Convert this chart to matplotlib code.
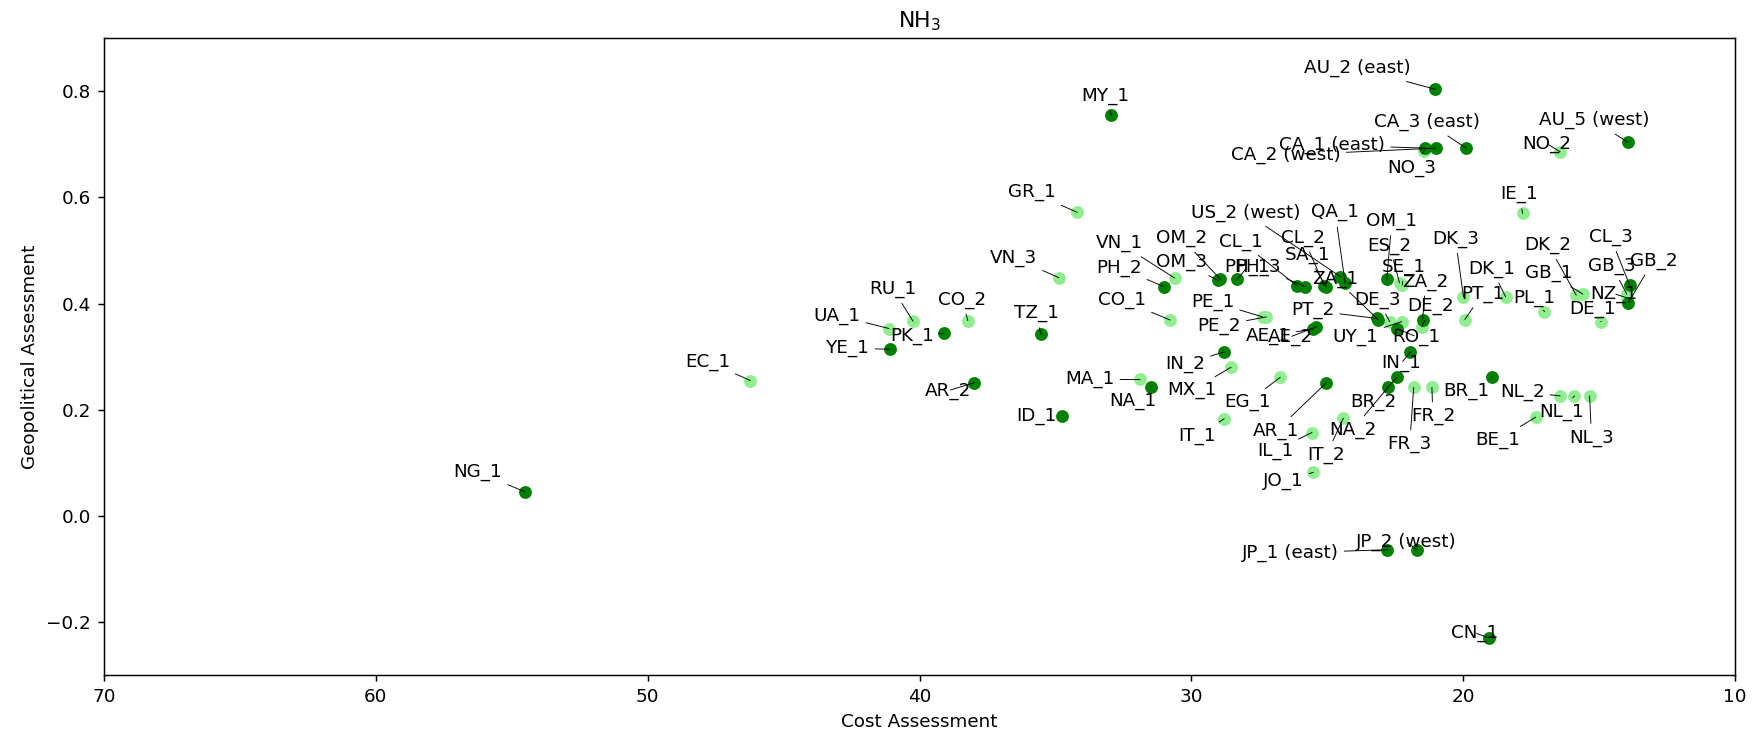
import matplotlib
matplotlib.use("Agg")
import matplotlib.pyplot as plt

# data: cost assessment (x), geopolitical assessment (y)
names = ["NG_1", "EC_1", "YE_1", "UA_1", "RU_1", "PK_1", "CO_2", "AR_2", "TZ_1", "ID_1",
         "VN_3", "GR_1", "MY_1", "MA_1", "NA_1", "PH_2", "CO_1", "VN_1", "OM_2", "OM_3",
         "PH_1", "IN_2", "MX_1", "IT_1", "PE_1", "PE_2", "EG_1", "CL_1", "PH_3", "JO_1",
         "IL_1", "AE_1", "AE_2", "SA_1", "CL_2", "AR_1", "US_2 (west)", "QA_1", "ZA_1", "IT_2",
         "PT_2", "OM_1", "NA_2", "DE_3", "RO_1", "BR_2", "JP_1 (east)", "ES_2", "SE_1", "UY_1",
         "IN_1", "FR_3", "JP_2 (west)", "DE_2", "ZA_2", "CA_1 (east)", "CA_2 (west)", "AU_2 (east)", "FR_2", "DK_3",
         "PT_1", "CA_3 (east)", "CN_1", "BR_1", "DK_1", "IE_1", "BE_1", "PL_1", "NL_2", "NO_2",
         "NL_1", "DK_2", "GB_1", "NL_3", "DE_1", "NZ_1", "CL_3", "GB_3", "GB_2", "AU_5 (west)",
         "NO_3"]
cost = [54.51, 46.22, 41.09, 41.12, 40.24, 39.11, 38.22, 37.98, 35.53, 34.74,
        34.88, 34.20, 32.94, 31.89, 31.48, 31.01, 30.78, 30.61, 28.93, 29.02,
        28.31, 28.79, 28.54, 28.79, 27.38, 27.24, 26.73, 26.12, 25.81, 25.51,
        25.56, 25.51, 25.41, 25.04, 25.11, 25.03, 24.52, 24.34, 23.13, 24.41,
        23.18, 22.81, 22.75, 22.70, 22.44, 22.43, 22.79, 22.34, 22.24, 22.26,
        21.94, 21.82, 21.70, 21.52, 21.49, 21.39, 21.00, 21.03, 21.15, 19.99,
        19.94, 19.89, 19.05, 18.93, 18.44, 17.81, 17.33, 17.01, 16.43, 16.43,
        15.91, 15.84, 15.60, 15.35, 14.93, 13.97, 13.88, 13.98, 13.92, 13.94,
        21.43]
geo = [0.045, 0.255, 0.314, 0.353, 0.367, 0.344, 0.368, 0.251, 0.342, 0.189,
       0.449, 0.572, 0.755, 0.257, 0.243, 0.432, 0.369, 0.448, 0.446, 0.444,
       0.446, 0.309, 0.280, 0.183, 0.375, 0.375, 0.261, 0.434, 0.432, 0.082,
       0.157, 0.352, 0.356, 0.432, 0.434, 0.251, 0.451, 0.438, 0.370, 0.184,
       0.372, 0.446, 0.243, 0.366, 0.353, 0.261, -0.064, 0.439, 0.435, 0.366,
       0.309, 0.242, -0.064, 0.356, 0.370, 0.693, 0.693, 0.804, 0.242, 0.413,
       0.370, 0.693, -0.230, 0.261, 0.413, 0.570, 0.186, 0.385, 0.226, 0.686,
       0.226, 0.416, 0.418, 0.226, 0.366, 0.411, 0.435, 0.418, 0.402, 0.704,
       0.688]
# 1 = dark green, 0 = light green
dark = [1, 0, 1, 0, 0, 1, 0, 1, 1, 1,
        0, 0, 1, 0, 1, 1, 0, 0, 1, 1,
        1, 1, 0, 0, 0, 0, 0, 1, 1, 0,
        0, 1, 1, 1, 1, 1, 1, 1, 1, 0,
        1, 1, 1, 0, 1, 1, 1, 0, 0, 0,
        1, 0, 1, 0, 1, 1, 1, 1, 0, 0,
        0, 1, 1, 1, 0, 0, 0, 0, 0, 0,
        0, 0, 0, 0, 0, 0, 1, 0, 1, 1,
        0]

# label offsets (pixels) from the point to the label centre
offsets = [(-47, 20), (-43, 19), (-42, 1), (-52, 13), (-20, 32), (-32, -3), (-6, 21), (-26, -8), (-5, 21), (-26, 0),
           (-45, 20), (-45, 20), (-6, 19), (-50, 0), (-18, -14), (-45, 19), (-48, 20), (-55, 35), (-39, 41), (-36, 18),
           (10, 12), (-39, -12), (-39, -23), (-27, -17), (-50, 15), (-47, -9), (-33, -25), (-56, 44), (-47, 20), (-30, -9),
           (-37, -18), (-45, -7), (-26, -10), (-19, 32), (-21, 48), (-50, -48), (-95, 64), (-10, 71), (-43, 41), (-17, -37),
           (-64, 8), (5, 58), (-36, -43), (-12, 22), (19, -8), (-24, -25), (-97, -3), (-10, 37), (2, 18), (-46, -15),
           (-9, -11), (-4, -57), (-11, 8), (9, 21), (3, 38), (-93, 3), (-150, -7), (-78, 21), (1, -29), (-8, 58),
           (18, 26), (-39, 26), (-14, 5), (-26, -14), (-14, 28), (-4, 19), (-38, -23), (-10, 14), (-38, 4), (-13, 8),
           (-13, -16), (-28, 50), (-34, 21), (2, -42), (-8, 13), (-13, 4), (-19, 48), (-15, 28), (25, 42), (-34, 22),
           (-13, -17)]

dpi = 132
fig = plt.figure(figsize=(1758 / dpi, 737 / dpi), dpi=dpi)
ax = fig.add_axes([104 / 1758, 1 - 675 / 737, (1735 - 104) / 1758, (675 - 38.3) / 737])

lx = [c for c, d in zip(cost, dark) if not d]
ly = [g for g, d in zip(geo, dark) if not d]
dx = [c for c, d in zip(cost, dark) if d]
dy = [g for g, d in zip(geo, dark) if d]
ax.scatter(lx, ly, color="lightgreen", zorder=2)
ax.scatter(dx, dy, color="green", zorder=3)

for n, c, g, off in zip(names, cost, geo, offsets):
    ax.annotate(n, (c, g), xytext=off, textcoords="offset pixels",
                ha="center", va="center", fontsize=10, zorder=4,
                arrowprops=dict(arrowstyle="-", color="k", lw=0.5,
                                shrinkA=1, shrinkB=0))

ax.set_xlim(70, 10)
ax.set_ylim(-0.3, 0.9)
ax.set_title(r"NH$_3$")
ax.set_xlabel("Cost Assessment")
ax.set_ylabel("Geopolitical Assessment")

fig.savefig("out.png", dpi=dpi)
